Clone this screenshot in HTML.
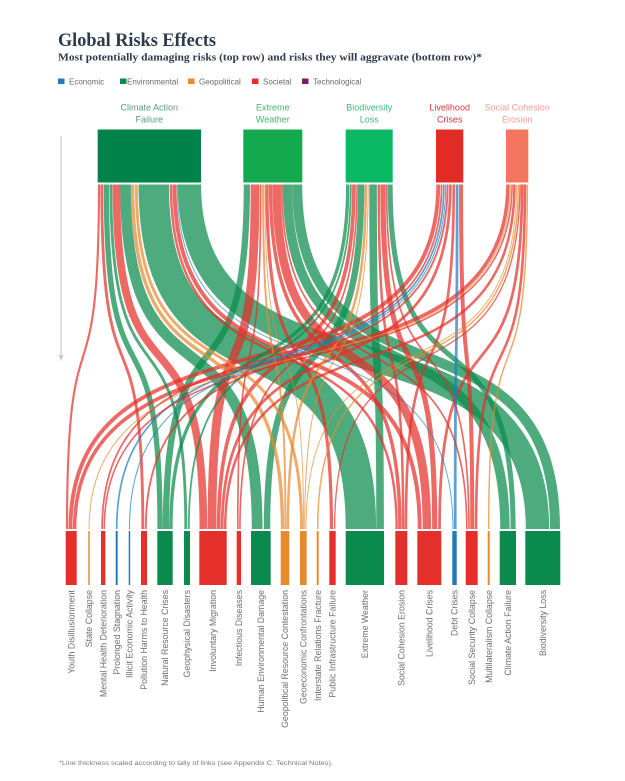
<!DOCTYPE html>
<html><head><meta charset="utf-8">
<style>
html,body{margin:0;padding:0;background:#fff;}
svg{display:block;}
text{font-family:"Liberation Sans",Arial,sans-serif;}
</style></head>
<body>
<svg id="c" width="625" height="781" viewBox="0 0 625 781" xmlns="http://www.w3.org/2000/svg">
<rect x="0" y="0" width="625" height="781" fill="#ffffff"/>
<!-- Title -->
<text x="58" y="46" style="font-family:'Liberation Serif',serif" font-weight="bold" font-size="18.5" fill="#2b3a4d" textLength="158" lengthAdjust="spacingAndGlyphs">Global Risks Effects</text>
<text x="58" y="60.5" style="font-family:'Liberation Serif',serif" font-weight="bold" font-size="10.3" fill="#2b3a4d" textLength="424" lengthAdjust="spacingAndGlyphs">Most potentially damaging risks (top row) and risks they will aggravate (bottom row)*</text>

<!-- Legend -->
<g font-size="8" fill="#6a6a6a">
<rect x="58" y="78.5" width="6.5" height="5.5" fill="#1f7bc0"/><text x="69" y="84.5">Economic</text>
<rect x="120" y="78.5" width="6.5" height="5.5" fill="#0a8a4c"/><text x="127" y="84.5">Environmental</text>
<rect x="188" y="78.5" width="6.5" height="5.5" fill="#ee8a2e"/><text x="199" y="84.5">Geopolitical</text>
<rect x="252" y="78.5" width="6.5" height="5.5" fill="#e52f2a"/><text x="263" y="84.5">Societal</text>
<rect x="302" y="78.5" width="6.5" height="5.5" fill="#7b1d6b"/><text x="313" y="84.5">Technological</text>
</g>

<!-- Top labels -->
<g font-size="9" text-anchor="middle">
<text x="149.3" y="110.5" fill="#5a9c78">Climate Action</text>
<text x="149.3" y="122.5" fill="#5a9c78">Failure</text>
<text x="272.8" y="110.5" fill="#40b46c">Extreme</text>
<text x="272.8" y="122.5" fill="#40b46c">Weather</text>
<text x="369.2" y="110.5" fill="#3fb878">Biodiversity</text>
<text x="369.2" y="122.5" fill="#3fb878">Loss</text>
<text x="449.7" y="110.5" fill="#d8393a">Livelihood</text>
<text x="449.7" y="122.5" fill="#d8393a">Crises</text>
<text x="517.2" y="110.5" fill="#f5a08f">Social Cohesion</text>
<text x="517.2" y="122.5" fill="#f5a08f">Erosion</text>
</g>

<!-- Left arrow -->
<line x1="61" y1="136" x2="61" y2="356" stroke="#c9c9c9" stroke-width="1.2"/>
<polygon points="58.5,355 63.5,355 61,361" fill="#c9c9c9"/>

<g id="links"></g>

<!-- Top nodes -->
<rect x="97.7" y="129.5" width="103.3" height="53" fill="#00834b"/>
<rect x="243.3" y="129.5" width="59" height="53" fill="#14a94f"/>
<rect x="345.7" y="129.5" width="47" height="53" fill="#0bb864"/>
<rect x="436" y="129.5" width="27.3" height="53" fill="#e42c27"/>
<rect x="506" y="129.5" width="22.3" height="53" fill="#f4765f"/>

<g id="bnodes"></g>

<!-- Bottom labels -->
<g font-size="8.8" fill="#6e6e6e" text-anchor="end">
<text transform="translate(74.4,590) rotate(-90)">Youth Disillusionment</text>
<text transform="translate(92.2,590) rotate(-90)">State Collapse</text>
<text transform="translate(106.3,590) rotate(-90)">Mental Health Deterioration</text>
<text transform="translate(119.9,590) rotate(-90)">Prolonged Stagnation</text>
<text transform="translate(132.6,590) rotate(-90)">Illicit Economic Activity</text>
<text transform="translate(147.2,590) rotate(-90)">Pollution Harms to Health</text>
<text transform="translate(168.2,590) rotate(-90)">Natural Resource Crises</text>
<text transform="translate(190.2,590) rotate(-90)">Geophysical Disasters</text>
<text transform="translate(216.2,590) rotate(-90)">Involuntary Migration</text>
<text transform="translate(242,590) rotate(-90)">Infectious Diseases</text>
<text transform="translate(264,590) rotate(-90)">Human Environmental Damage</text>
<text transform="translate(288.2,590) rotate(-90)">Geopolitical Resource Contestation</text>
<text transform="translate(306.5,590) rotate(-90)">Geoeconomic Confrontations</text>
<text transform="translate(320.9,590) rotate(-90)">Interstate Relations Fracture</text>
<text transform="translate(335.7,590) rotate(-90)">Public Infrastructure Failure</text>
<text transform="translate(368,590) rotate(-90)">Extreme Weather</text>
<text transform="translate(404.5,590) rotate(-90)">Social Cohesion Erosion</text>
<text transform="translate(432.5,590) rotate(-90)">Livelihood Crises</text>
<text transform="translate(457.7,590) rotate(-90)">Debt Crises</text>
<text transform="translate(474.9,590) rotate(-90)">Social Security Collapse</text>
<text transform="translate(491.9,590) rotate(-90)">Multilateralism Collapse</text>
<text transform="translate(511,590) rotate(-90)">Climate Action Failure</text>
<text transform="translate(546,590) rotate(-90)">Biodiversity Loss</text>
</g>

<!-- Footnote -->
<text x="59" y="765" font-size="6.5" fill="#7a7a7a" textLength="274" lengthAdjust="spacingAndGlyphs">*Line thickness scaled according to tally of links (see Appendix C: Technical Notes).</text>
</svg>
<script>
(function(){
var NS="http://www.w3.org/2000/svg";
var S=[[97.7,201],[243.3,302.3],[345.7,392.7],[436,463.3],[506,528.3]];
var T=[[65.7,76.7,'S'],[88.3,89.8,'G'],[101,105.3,'S'],[115.7,117.7,'E'],[128.7,130.2,'E'],
[141,147,'S'],[157.3,172.7,'N'],[184,190,'N'],[199.3,226.7,'S'],[236.7,241,'S'],
[251,270.7,'N'],[280.7,289.3,'G'],[300,306.7,'G'],[316.7,318.7,'G'],[329.3,335.7,'S'],
[345.7,384,'N'],[395.3,407.3,'S'],[417.3,441.3,'S'],[452.3,456.7,'E'],[465.7,477.7,'S'],
[487.7,489.7,'G'],[499.7,516,'N'],[525.3,560.3,'N']];
var col={S:'#e52f2a',N:'#0a8a4c',G:'#e8892e',E:'#1f7bc0'};
var L=[
[0,0,2.5],[0,5,3],[0,6,6],[0,7,3],[0,8,8],[0,10,10],[0,11,4],[0,12,3.5],[0,15,31],[0,16,3],[0,17,4],[0,18,1.3],[0,22,23],
[1,6,7],[1,8,9],[1,9,2],[1,11,2.5],[1,12,1],[1,14,3],[1,16,4],[1,17,8],[1,19,2],[1,21,9],[1,22,10],
[2,6,4],[2,7,2],[2,8,4],[2,9,2],[2,10,6],[2,11,3],[2,12,1.5],[2,15,8],[2,16,3],[2,17,5],[2,19,2],[2,21,5],
[3,0,4],[3,2,2],[3,3,2],[3,4,1.3],[3,5,2],[3,8,3],[3,16,3],[3,18,3],[3,19,4],
[4,0,4],[4,1,1.4],[4,2,2],[4,8,3],[4,12,1.5],[4,13,2],[4,14,1.5],[4,17,3],[4,19,3],[4,20,2]
];
var links=L.map(function(a){return {s:a[0],t:a[1],v:a[2]};});
var i;
for(i=0;i<S.length;i++){
  var ls=links.filter(function(l){return l.s===i;}).sort(function(a,b){return a.t-b.t;});
  var tot=0; ls.forEach(function(l){tot+=l.v;});
  var sc=(S[i][1]-S[i][0])/tot, p=S[i][0];
  ls.forEach(function(l){l.sw=l.v*sc; l.sx=p+l.sw/2; p+=l.sw;});
}
for(i=0;i<T.length;i++){
  var lt=links.filter(function(l){return l.t===i;}).sort(function(a,b){return a.s-b.s;});
  var tot2=0; lt.forEach(function(l){tot2+=l.v;});
  if(!tot2) continue;
  var sc2=(T[i][1]-T[i][0])/tot2, q=T[i][0];
  lt.forEach(function(l){l.tw=l.v*sc2; l.tx=q+l.tw/2; q+=l.tw;});
}
var y0=184.5,y1=529,h=y1-y0,k=0.7;
var g=document.getElementById('links');
links.slice().sort(function(a,b){return (b.sw+b.tw)-(a.sw+a.tw);}).forEach(function(l){
  var w=(l.sw+l.tw)/2; w=Math.max(w-0.45,0.9);
  var path=document.createElementNS(NS,'path');
  var d='M'+l.sx.toFixed(2)+','+y0+' C'+l.sx.toFixed(2)+','+(y0+k*h).toFixed(2)+' '+l.tx.toFixed(2)+','+(y1-k*h).toFixed(2)+' '+l.tx.toFixed(2)+','+y1;
  path.setAttribute('d',d);
  path.setAttribute('fill','none');
  path.setAttribute('stroke',col[T[l.t][2]]);
  path.setAttribute('stroke-opacity','0.72');
  path.setAttribute('stroke-width',w.toFixed(2));
  g.appendChild(path);
});
var bn=document.getElementById('bnodes');
T.forEach(function(t){
  var r=document.createElementNS(NS,'rect');
  r.setAttribute('x',t[0]); r.setAttribute('y',531);
  r.setAttribute('width',(t[1]-t[0]).toFixed(2)); r.setAttribute('height',54);
  r.setAttribute('fill',col[t[2]]);
  bn.appendChild(r);
});
})();
</script>
</body></html>
